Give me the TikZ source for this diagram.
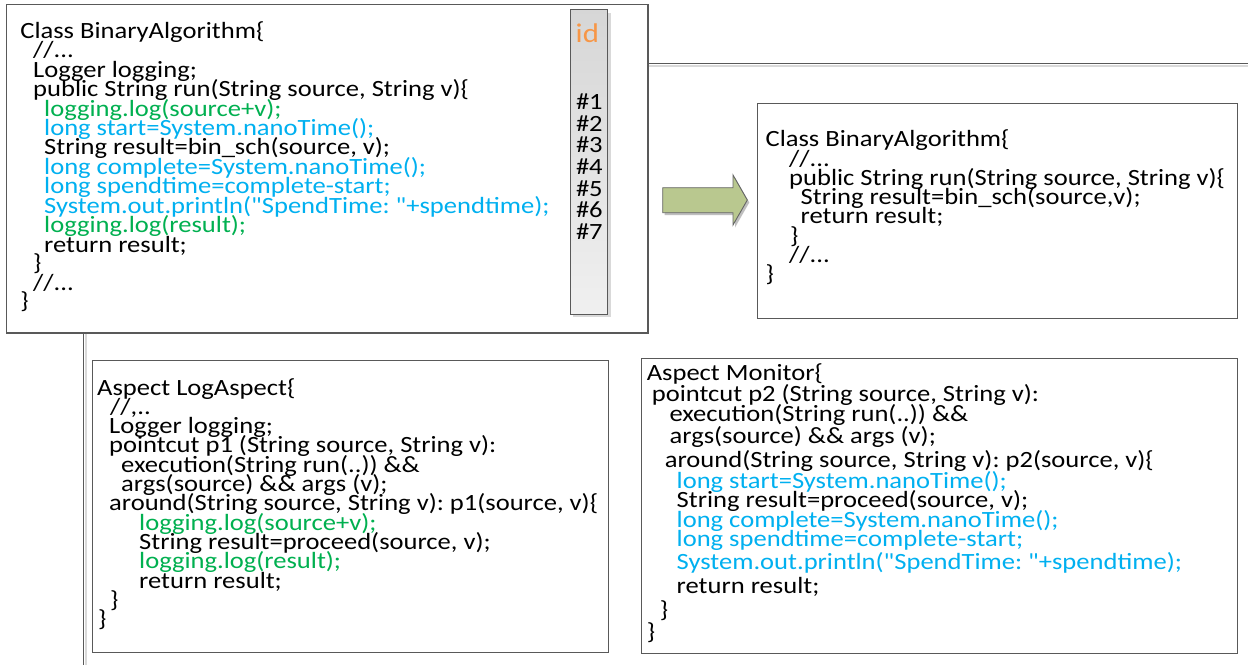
\documentclass[tikz,border=0pt]{standalone}
\usepackage{fontspec}
\setmainfont[FakeStretch=1.14, Ligatures=TeXOff]{Carlito}
\definecolor{codegreen}{HTML}{00B050}
\definecolor{codeblue}{HTML}{00B0F0}
\definecolor{idorange}{HTML}{F79646}
\definecolor{boxline}{HTML}{595959}
\definecolor{arrowfill}{HTML}{B9C88F}
\definecolor{shadowgray}{HTML}{D9D9D9}
\newcommand{\cl}[5]{\node[#4] (#1) at (#2,#3) {#5};}
\newcommand{\qt}{\symbol{34}}
\frenchspacing
\begin{document}
\frenchspacing
\begin{tikzpicture}[x=1pt,y=-1pt,
  code/.style={anchor=base west, inner sep=0pt, font=\fontsize{23.3}{19.5}\selectfont\frenchspacing, text=black},
  gr/.style={code, text=codegreen},
  bl/.style={code, text=codeblue},
  box/.style={draw=boxline, line width=1.2pt, fill=white, anchor=north west, inner sep=0pt, outer sep=0pt},
  rule/.style={draw=boxline, line width=1.3pt},
  ruleshadow/.style={draw=shadowgray, line width=2pt}]
\useasboundingbox (0,0) rectangle (1248,665);
\fill[white] (0,0) rectangle (1248,665);

% separator lines
\coordinate (hl) at (648,63.5);
\coordinate (hr) at (1248,63.5);
\coordinate (vt) at (83.3,333);
\coordinate (vb) at (83.3,665);
\draw[ruleshadow] (648,66.3) -- (1248,66.3);
\draw[ruleshadow] (86,333) -- (86,665);
\draw[rule] (hl) -- (hr);
\draw[rule] (vt) -- (vb);

% boxes
\node[box, minimum width=641.7pt, minimum height=328.5pt] (tl) at (6.3,4.5) {};
\node[box, minimum width=480.3pt, minimum height=215pt] (rb) at (757.4,103.3) {};
\node[box, minimum width=515.8pt, minimum height=292pt] (lb) at (92.5,360.7) {};
\node[box, minimum width=596pt, minimum height=295pt] (mb) at (641.8,358.3) {};

% id column
\fill[shadowgray] (573.3,12.5) rectangle (610.7,317);
\shade[top color=black!16, bottom color=black!6, draw=boxline, line width=1pt] (570.3,9.5) rectangle (607.7,314);
\node[anchor=base west, inner sep=0pt, text=idorange, font=\fontsize{27}{27}\selectfont] (idl) at (575.5,42.7) {id};
\cl{n1}{575.8}{109.3}{code}{\#1}
\cl{n2}{575.8}{131.0}{code}{\#2}
\cl{n3}{575.8}{152.7}{code}{\#3}
\cl{n4}{575.8}{174.4}{code}{\#4}
\cl{n5}{575.8}{196.1}{code}{\#5}
\cl{n6}{575.8}{217.8}{code}{\#6}
\cl{n7}{575.8}{239.5}{code}{\#7}

% arrow
\fill[black!25] (664.7,190.2) -- (735,190.2) -- (735,177.5) -- (749.3,202.5) -- (735,227.5) -- (735,215.2) -- (664.7,215.2) -- cycle;
\draw[fill=arrowfill, draw=black!60, line width=0.9pt] (662.7,187.7) -- (733,187.7) -- (733,175) -- (747.3,200) -- (733,225) -- (733,212.7) -- (662.7,212.7) -- cycle;

% top-left code
\cl{a1}{20.2}{38.3}{code}{Class BinaryAlgorithm\{}
\cl{a2}{33}{57.7}{code}{//...}
\cl{a3}{33}{77.2}{code}{Logger logging;}
\cl{a4}{33}{96.6}{code}{public String run(String source, String v)\{}
\cl{a5}{44}{116.0}{gr}{logging.log(source+v);}
\cl{a6}{44}{135.5}{bl}{long start=System.nanoTime();}
\cl{a7}{44}{154.9}{code}{String result=bin\_sch(source, v);}
\cl{a8}{44}{174.3}{bl}{long complete=System.nanoTime();}
\cl{a9}{44}{193.8}{bl}{long spendtime=complete-start;}
\cl{a10}{44}{213.2}{bl}{System.out.println(\qt SpendTime: \qt+spendtime);}
\cl{a11}{44}{232.6}{gr}{logging.log(result);}
\cl{a12}{44}{252.1}{code}{return result;}
\cl{a13}{33}{270}{code}{\}}
\cl{a14}{33}{290.5}{code}{//...}
\cl{a15}{20.2}{308}{code}{\}}

% right code
\cl{b1}{765.4}{146.7}{code}{Class BinaryAlgorithm\{}
\cl{b2}{789}{166}{code}{//...}
\cl{b3}{789}{185.3}{code}{public String run(String source, String v)\{}
\cl{b4}{800.5}{204.6}{code}{String result=bin\_sch(source,v);}
\cl{b5}{800.5}{223.9}{code}{return result;}
\cl{b6}{790}{243.2}{code}{\}}
\cl{b7}{789}{262.5}{code}{//...}
\cl{b8}{765.4}{281.8}{code}{\}}

% LogAspect
\cl{c1}{97}{395}{code}{Aspect LogAspect\{}
\cl{c2}{110}{414.3}{code}{//,..}
\cl{c3}{109}{433.6}{code}{Logger logging;}
\cl{c4}{109}{452.9}{code}{pointcut p1 (String source, String v):}
\cl{c5}{121}{472.2}{code}{execution(String run(..)) \&\&}
\cl{c6}{121}{491.5}{code}{args(source) \&\& args (v);}
\cl{c7}{109}{510.8}{code}{around(String source, String v): p1(source, v)\{}
\cl{c8}{139}{530.1}{gr}{logging.log(source+v);}
\cl{c9}{139}{549.4}{code}{String result=proceed(source, v);}
\cl{c10}{139}{568.7}{gr}{logging.log(result);}
\cl{c11}{139}{588}{code}{return result;}
\cl{c12}{110}{607.3}{code}{\}}
\cl{c13}{98}{626.6}{code}{\}}

% Monitor
\cl{d1}{646.6}{380.7}{code}{Aspect Monitor\{}
\cl{d2}{651.7}{401}{code}{pointcut p2 (String source, String v):}
\cl{d3}{669.4}{421}{code}{execution(String run(..)) \&\&}
\cl{d4}{669.4}{443}{code}{args(source) \&\& args (v);}
\cl{d5}{664.7}{467.7}{code}{around(String source, String v): p2(source, v)\{}
\cl{d6}{676.5}{488}{bl}{long start=System.nanoTime();}
\cl{d7}{676.5}{507.7}{code}{String result=proceed(source, v);}
\cl{d8}{676.5}{527}{bl}{long complete=System.nanoTime();}
\cl{d9}{676.5}{546.7}{bl}{long spendtime=complete-start;}
\cl{d10}{676.5}{569}{bl}{System.out.println(\qt SpendTime: \qt+spendtime);}
\cl{d11}{676.5}{593}{code}{return result;}
\cl{d12}{659.6}{617}{code}{\}}
\cl{d13}{646.6}{639}{code}{\}}
\end{tikzpicture}
\end{document}
